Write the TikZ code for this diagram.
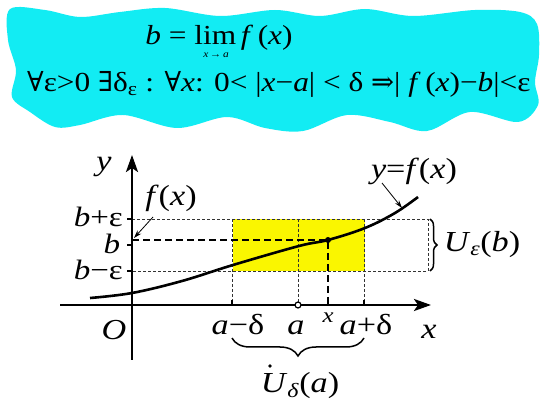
\documentclass[tikz,border=0pt]{standalone}
\usepackage{fontspec}
\setmainfont{Liberation Serif}[FakeStretch=1.18]
\newfontfamily\formfont{Liberation Serif}[FakeStretch=1.14]
\newfontfamily\symfont{DejaVu Serif}
\usetikzlibrary{arrows.meta,decorations.pathreplacing}
\definecolor{cloudcyan}{RGB}{18,236,243}
\definecolor{boxyellow}{RGB}{250,246,0}
\begin{document}
\begin{tikzpicture}[x=1pt,y=-1pt,
  formula/.style={inner sep=0pt, font=\formfont\fontsize{27.5}{30}\selectfont},
  lbl/.style={inner sep=0pt, font=\fontsize{29}{32}\selectfont},
  stacklbl/.style={inner sep=0pt, font=\fontsize{28}{30}\selectfont, text depth=0pt, text height=18pt},
  smalllbl/.style={inner sep=0pt, font=\fontsize{21}{23}\selectfont},
  axis/.style={line width=2.6pt, -{Stealth[length=17pt,width=12pt,inset=4pt]}},
  thindash/.style={line width=0.7pt, dash pattern=on 3pt off 2pt, black!80},
  thickdash/.style={line width=1.8pt, dash pattern=on 7pt off 4pt},
  curve/.style={line width=2.6pt},
  tick/.style={line width=1.5pt},
  pointer/.style={line width=0.8pt, -{Stealth[length=8pt,width=5pt]}},
  bracestyle/.style={line width=1.5pt, decorate}
]
\useasboundingbox (0,0) rectangle (541,403);
% cloud
\fill[cloudcyan] plot[smooth cycle, tension=0.55] coordinates {
 (10,9) (45,10) (80,17) (120,12) (165,8) (220,16) (275,10) (320,16) (365,9)
 (413,16) (475,10) (520,12) (537,24) (539,55) (535,82) (538,105) (518,122)
 (470,112) (427,131) (390,122) (347,115) (303,131) (265,128) (227,117)
 (177,128) (123,115) (80,125) (55,127) (30,112) (12,97) (16,70) (8,40)};
\node[formula, anchor=base] (limline) at (219,45)
  {\textit{b} = lim\,\textit{f}\,(\textit{x})};
\node[inner sep=0pt, font=\formfont\fontsize{10}{11}\selectfont] (limsub) at (216,55)
  {\textit{x}\,→\,\textit{a}};
\node[formula, anchor=base west] (cond) at (27,92)
  {{\symfont∀}ε>0 {\symfont∃}δ\textsubscript{ε} : {\symfont∀}\textit{x}: 0< |\textit{x}−\textit{a}| < δ {\symfont⇒}| \textit{f}\,(\textit{x})−\textit{b}|<ε};
% key coordinates
\coordinate (O) at (132,305);
\coordinate (ytop) at (132,155);
\coordinate (ybot) at (132,360);
\coordinate (xleft) at (60,305);
\coordinate (xright) at (431,305);
\coordinate (P) at (328,240);
\coordinate (Pax) at (328,305);
\coordinate (Pb) at (132,240);
% yellow box
\fill[boxyellow] (233,219) rectangle (365,271);
% thin dashed lines
\draw[thindash] (132,219) -- (428,219) -- (428,271) -- (132,271);
\draw[thindash] (232,219) -- (232,305);
\draw[thindash] (298,219) -- (298,305);
\draw[thindash] (364,219) -- (364,305);
% thick dashed
\draw[thickdash] (Pb) -- (P) -- (Pax);
% axes
\draw[axis] (ybot) -- (ytop);
\draw[axis] (xleft) -- (xright);
% ticks
\foreach \yy in {219,245,271} \draw[tick] (127,\yy) -- (132,\yy);
\foreach \xx in {232,364} \draw[tick] (\xx,300) -- (\xx,305);
\fill[white] (298,305) circle (3pt);
\draw[line width=1.2pt] (298,305) circle (3pt);
% curve
\draw[curve] plot[smooth, tension=0.6] coordinates {(90,298) (132,293) (182,281) (233,265) (299,246) (328,240) (365,228) (395,213) (418,197)};
\fill (P) circle (3pt);
% labels
\node[lbl, anchor=base] (ylab) at (104,171) {\textit{y}};
\node[lbl, anchor=base] (xlab) at (429,338) {\textit{x}};
\node[lbl, anchor=base] (Olab) at (114,340) {\textit{O}};
\node[stacklbl, anchor=base east] (bpe) at (123,227) {\textit{b}+ε};
\node[stacklbl, anchor=base] (blab) at (112,254) {\textit{b}};
\node[stacklbl, anchor=base east] (bme) at (123,280) {\textit{b}−ε};
\node[lbl, anchor=base] (amd) at (238,335) {\textit{a}−δ};
\node[lbl, anchor=base] (alab) at (296,335) {\textit{a}};
\node[smalllbl, anchor=base] (xpt) at (328,323) {\textit{x}};
\node[lbl, anchor=base] (apd) at (366,335) {\textit{a}+δ};
\node[lbl, anchor=base] (fxlab) at (171,206) {\textit{f}(\textit{x})};
\node[lbl, anchor=base] (yfx) at (414,179) {\textit{y}=\textit{f}(\textit{x})};
\coordinate (fxtip) at (134,238);
\coordinate (curvetip) at (402,208);
\draw[pointer] (153,217) -- (fxtip);
\draw[pointer] (382,183) -- (curvetip);
% braces
\draw[bracestyle, decoration={brace, amplitude=7pt}] (430,219) -- (430,271);
\node[lbl, anchor=base] (Ueb) at (482,252) {\textit{U}\textsubscript{\textit{ε}}(\textit{b})};
\draw[bracestyle, decoration={brace, amplitude=18pt}] (364,338) -- (232,338);
\node[lbl, anchor=base] (Uda) at (300,392) {\textit{U}\textsubscript{\textit{δ}}(\textit{a})};
\coordinate (Udot) at (270,366);
\fill (Udot) circle (1.8pt);
\end{tikzpicture}
\end{document}
